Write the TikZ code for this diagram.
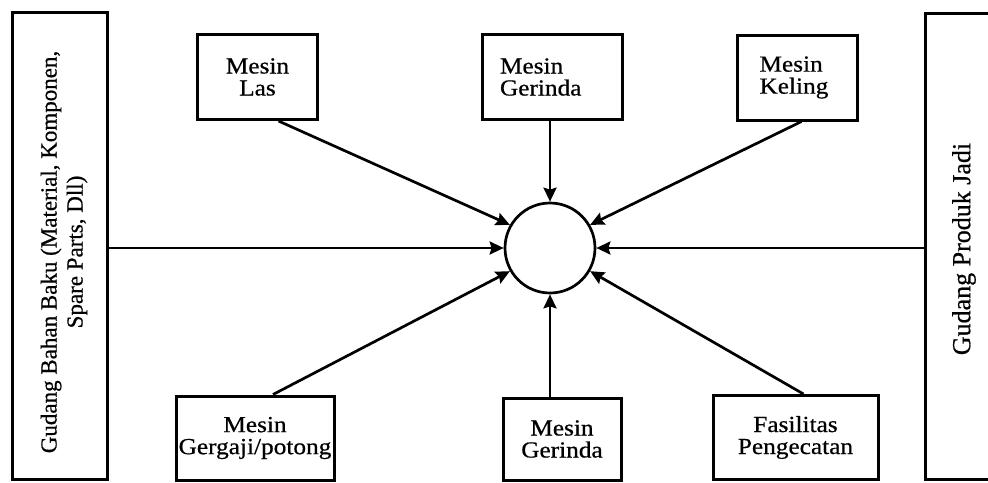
\documentclass[tikz,border=0pt]{standalone}
\usepackage{fontspec}
\setmainfont{Liberation Serif}[FakeBold=0.6]
\newfontfamily\boxfont[FakeStretch=1.1,FakeBold=0.6]{Liberation Serif}
\usetikzlibrary{arrows.meta,calc}
\tikzset{
  mbox/.style={draw=black, line width=3pt, fill=white, minimum width=120pt, minimum height=85pt,
    align=center, inner sep=0pt, font=\boxfont\fontsize{23}{22}\selectfont},
  bigbox/.style={draw=black, line width=3pt, fill=white, inner sep=0pt},
  arr/.style={line width=2.7pt, -{Stealth[length=14pt,width=13pt,inset=2pt]}},
  hub/.style={draw=black, line width=2.7pt, circle, minimum size=90pt, inner sep=0pt}
}
\begin{document}
\begin{tikzpicture}[x=1pt,y=-1pt]
\useasboundingbox (0,0) rectangle (988,482);
\begin{scope}
\clip (0,0) rectangle (988,482);
% big side boxes
\node[bigbox, minimum width=95pt, minimum height=467pt] (left) at (59.5,245.5) {};
\node[rotate=90, align=center, font=\fontsize{23}{26}\selectfont] (lefttxt) at (64,252)
  {Gudang Bahan Baku (Material, Komponen,\\Spare Parts, Dll)};
\node[bigbox, minimum width=90pt, minimum height=466pt] (right) at (970,246) {};
\node[rotate=90, font=\fontsize{26}{28}\selectfont] (righttxt) at (964,249) {Gudang Produk Jadi};

% hub
\node[hub] (c) at (550,248) {};

% top boxes
\node[mbox] (las) at (257.5,77) {Mesin\\Las};
\node[mbox, minimum width=140pt, text width=104pt, inner xsep=18pt, align=left] (gtop) at (552,77) {Mesin\\Gerinda};
\node[mbox, text width=76pt, inner xsep=22pt, align=left] (kel) at (797.5,77.5) {Mesin\\Keling};

% bottom boxes
\node[mbox, minimum width=158pt, minimum height=84pt] (gerg) at (255,438) {Mesin\\Gergaji/potong};
\node[mbox, minimum width=118pt, minimum height=82pt] (gbot) at (562,439) {Mesin\\Gerinda};
\node[mbox, minimum width=165pt, minimum height=84pt] (fas) at (795.5,437.5) {Fasilitas\\Pengecatan};

% connectors
\draw[arr] (left.east |- c.west) -- (c.west);
\draw[arr] (right.west |- c.east) -- (c.east);
\draw[arr] (gtop.south -| c.north) -- (c.north);
\draw[arr] (gbot.north -| c.south) -- (c.south);
\draw[arr] ($(las.south)+(21,0)$) -- (c.150);
\draw[arr] ($(kel.south)+(4,0)$) -- (c.30);
\draw[arr] ($(gerg.north)+(18,0)$) -- (c.210);
\draw[arr] ($(fas.north)+(8,0)$) -- (c.330);
\end{scope}
\end{tikzpicture}
\end{document}
